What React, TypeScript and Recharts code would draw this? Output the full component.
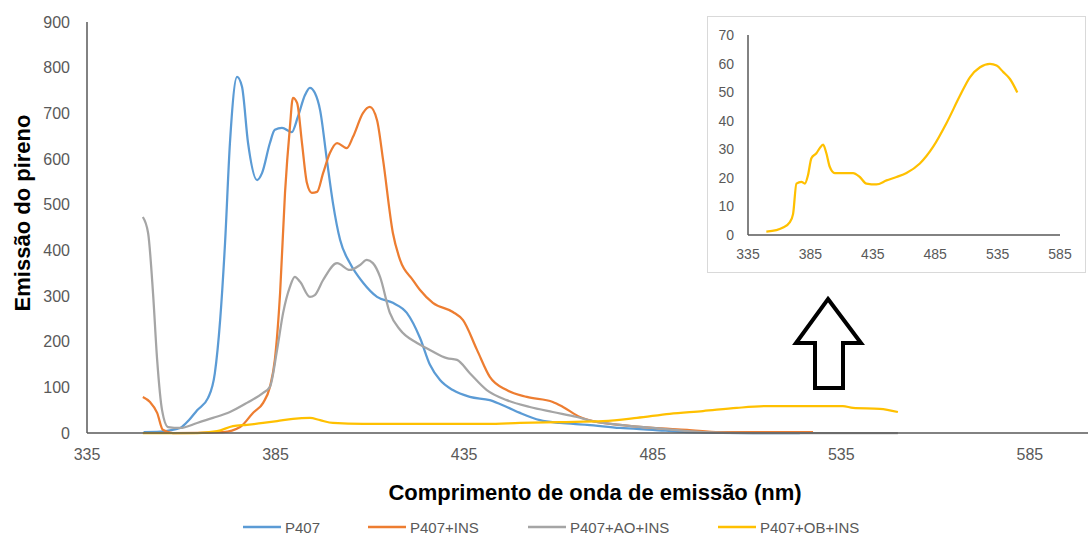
import React from "react";
import { Line, LineChart, XAxis, YAxis } from "recharts";

const FONT = "'Liberation Sans', Arial, sans-serif";
const TICK_COLOR = "#595959";
const AXIS_COLOR = "#595959";

const xTicks = [335, 385, 435, 485, 535, 585];
const yTicks = [0, 100, 200, 300, 400, 500, 600, 700, 800, 900];
const insetYTicks = [0, 10, 20, 30, 40, 50, 60, 70];

// [wavelength nm, emission]
const p407: [number, number][] = [
  [350, 2], [354.4, 3], [357, 6], [359.7, 11], [362, 28], [364.2, 50], [367.1, 77],
  [368.9, 131], [370.3, 247], [371.6, 416], [372.9, 635], [374.8, 780], [376.1, 758],
  [377.7, 635], [380.1, 554], [381.4, 569], [383.5, 635], [384.8, 664], [386.7, 668],
  [389.3, 659], [390.9, 692], [392.8, 740], [394.1, 756], [395.4, 745], [396.8, 707],
  [398.6, 598], [400.2, 504], [402.1, 423], [404.7, 372], [408.2, 329], [411.9, 298],
  [416.1, 285], [419.8, 263], [423.3, 208], [425.9, 150], [428.6, 116], [432, 94],
  [436.5, 79], [441.8, 72], [446.3, 57], [449.8, 44], [455.1, 28], [460.4, 22],
  [467.6, 18], [476.3, 11], [485, 7], [494.1, 2], [511.6, 0], [524, 0],
];

const p407Ins: [number, number][] = [
  [349.8, 79], [351.7, 68], [353.6, 44], [355.1, 7], [357.8, 0], [371.1, 2], [375.6, 13],
  [379, 44], [381.7, 66], [383.5, 101], [384.8, 160], [386.2, 307], [387.5, 526],
  [388.8, 670], [389.6, 734], [390.7, 723], [392, 635], [393.3, 548], [394.6, 526],
  [396, 528], [397.6, 569], [399.4, 613], [401.3, 635], [403.9, 624], [405.5, 648],
  [408.2, 701], [410, 714], [411.9, 685], [413.5, 598], [416.1, 438], [418, 379],
  [421.4, 335], [423.3, 313], [426.7, 285], [432, 265], [434.7, 247], [438.4, 182],
  [441.8, 123], [446.3, 94], [451.6, 79], [458.5, 68], [461.2, 57], [465.7, 35],
  [469.1, 26], [476.3, 18], [485, 11], [494.1, 7], [502.8, 2], [527.5, 2],
];

const p407AoIns: [number, number][] = [
  [349.8, 473], [351.2, 438], [352.5, 307], [353.6, 160], [354.9, 50], [356.5, 13],
  [359.7, 11], [364.2, 22], [368.4, 33], [372.9, 46], [377.4, 66], [381.7, 88],
  [383.5, 101], [385.4, 182], [387, 263], [388.8, 320], [390.1, 342], [391.5, 331],
  [394.1, 298], [395.4, 302], [397.6, 335], [401.3, 372], [404.7, 357], [407.4, 368],
  [409.2, 379], [410.8, 372], [412.7, 342], [415.3, 263], [418, 226], [422.5, 197],
  [425.9, 182], [430.4, 164], [433.1, 160], [436.5, 131], [441, 94], [446.3, 72],
  [452.4, 57], [458.5, 46], [464.9, 35], [469.1, 26], [476.3, 18], [485, 11],
  [498.3, 2], [511.6, 0], [550, 0],
];

const p407ObIns: [number, number][] = [
  [349.8, 0], [364.2, 0], [369.5, 4], [373.7, 15], [377.4, 18], [381.7, 22], [385.4, 26],
  [389.6, 31], [394.1, 33], [396.8, 28], [400.2, 22], [408.2, 20], [425.9, 20],
  [441, 20], [449.8, 22], [460.4, 24], [471.8, 26], [480.8, 33], [489.5, 42],
  [498.3, 48], [507.3, 55], [516.1, 59], [524.8, 59], [535.4, 59], [538.1, 55],
  [545.2, 53], [550, 46],
];

// zoomed-in P407+OB+INS spectrum
const p407ObInsDetail: [number, number][] = [
  [349.7, 1.2], [357.7, 1.7], [363.1, 2.6], [368.4, 4.4], [371.1, 7.3], [373.8, 18],
  [377.8, 18.6], [380.5, 18], [383.1, 21], [385.8, 26.9], [389.8, 28.6], [392.5, 30.4],
  [395.2, 31.6], [397.8, 28.6], [400.5, 23.9], [404.5, 21.7], [411.2, 21.7],
  [419.2, 21.7], [424.6, 20.3], [429.9, 18], [437.9, 17.7], [446, 19.1], [454, 20.3],
  [462, 21.7], [472.7, 25], [483.4, 30.9], [494.1, 39.2], [504.8, 48.7], [512.8, 55.2],
  [520.9, 58.7], [528.9, 59.9], [534.2, 59.3], [539.6, 57], [544.9, 54.6], [550.8, 49.9],
];

const series = [
  { name: "P407", color: "#5B9BD5", points: p407, legendX: 243 },
  { name: "P407+INS", color: "#ED7D31", points: p407Ins, legendX: 368 },
  { name: "P407+AO+INS", color: "#A5A5A5", points: p407AoIns, legendX: 528 },
  { name: "P407+OB+INS", color: "#FFC000", points: p407ObIns, legendX: 718 },
];

const toRows = (points: [number, number][]) =>
  points.map(([nm, value]) => ({ nm, value }));

function InsetChart() {
  return (
    <div
      style={{
        position: "absolute",
        left: 707,
        top: 16,
        width: 379,
        height: 257,
        border: "1px solid #d9d9d9",
        boxSizing: "border-box",
        background: "#fff",
      }}
    >
      <LineChart width={377} height={255} margin={{ top: 18, right: 25, left: 10, bottom: 7 }}>
        <XAxis
          type="number"
          dataKey="nm"
          domain={[335, 585]}
          ticks={xTicks}
          height={30}
          tickLine={false}
          tickSize={0}
          tickMargin={14}
          axisLine={{ stroke: AXIS_COLOR, strokeWidth: 1.5 }}
          tick={{ fill: TICK_COLOR, fontSize: 14, fontFamily: FONT }}
        />
        <YAxis
          type="number"
          domain={[0, 70]}
          ticks={insetYTicks}
          width={30}
          tickLine={false}
          tickSize={0}
          tickMargin={14}
          axisLine={{ stroke: AXIS_COLOR, strokeWidth: 1.5 }}
          tick={{ fill: TICK_COLOR, fontSize: 14, fontFamily: FONT }}
        />
        <Line
          data={toRows(p407ObInsDetail)}
          dataKey="value"
          type="monotone"
          stroke="#FFC000"
          strokeWidth={2.25}
          dot={false}
          isAnimationActive={false}
        />
      </LineChart>
    </div>
  );
}

export default function App() {
  return (
    <div
      style={{
        position: "absolute",
        left: 0,
        top: 0,
        width: 1088,
        height: 536,
        background: "#fff",
        fontFamily: FONT,
      }}
    >
      <LineChart width={1088} height={536} margin={{ top: 22, right: 0, left: 37, bottom: 73 }}>
        <XAxis
          type="number"
          dataKey="nm"
          domain={[335, 600.4]}
          ticks={xTicks}
          allowDataOverflow
          height={30}
          tickLine={false}
          tickSize={0}
          tickMargin={16}
          axisLine={{ stroke: AXIS_COLOR, strokeWidth: 1.5 }}
          tick={{ fill: TICK_COLOR, fontSize: 16, fontFamily: FONT }}
        />
        <YAxis
          type="number"
          domain={[0, 900]}
          ticks={yTicks}
          width={50}
          tickLine={false}
          tickSize={0}
          tickMargin={17}
          axisLine={{ stroke: AXIS_COLOR, strokeWidth: 1.5 }}
          tick={{ fill: TICK_COLOR, fontSize: 16, fontFamily: FONT }}
        />
        {series.map((s) => (
          <Line
            key={s.name}
            name={s.name}
            data={toRows(s.points)}
            dataKey="value"
            type="monotone"
            stroke={s.color}
            strokeWidth={2.25}
            dot={false}
            isAnimationActive={false}
          />
        ))}
      </LineChart>

      <InsetChart />

      <svg
        width={1088}
        height={536}
        style={{ position: "absolute", left: 0, top: 0, pointerEvents: "none" }}
      >
        <text
          transform="translate(22,213) rotate(-90)"
          textAnchor="middle"
          dominantBaseline="central"
          fontSize={22}
          fontWeight={700}
          fontFamily={FONT}
          fill="#000"
        >
          Emissão do pireno
        </text>
        <text
          x={595}
          y={492}
          textAnchor="middle"
          dominantBaseline="central"
          fontSize={22}
          fontWeight={700}
          fontFamily={FONT}
          fill="#000"
        >
          Comprimento de onda de emissão (nm)
        </text>

        {/* up arrow pointing at the inset */}
        <polygon
          points="828,299 861,343 843,343 843,388 815,388 815,343 796,343"
          fill="#fff"
          stroke="#000"
          strokeWidth={4}
          strokeLinejoin="miter"
        />

        {series.map((s) => (
          <g key={s.name}>
            <line
              x1={s.legendX}
              x2={s.legendX + 38}
              y1={527}
              y2={527}
              stroke={s.color}
              strokeWidth={2.5}
            />
            <text
              x={s.legendX + 42}
              y={527}
              dominantBaseline="central"
              fontSize={15}
              fontFamily={FONT}
              fill={TICK_COLOR}
            >
              {s.name}
            </text>
          </g>
        ))}
      </svg>
    </div>
  );
}
